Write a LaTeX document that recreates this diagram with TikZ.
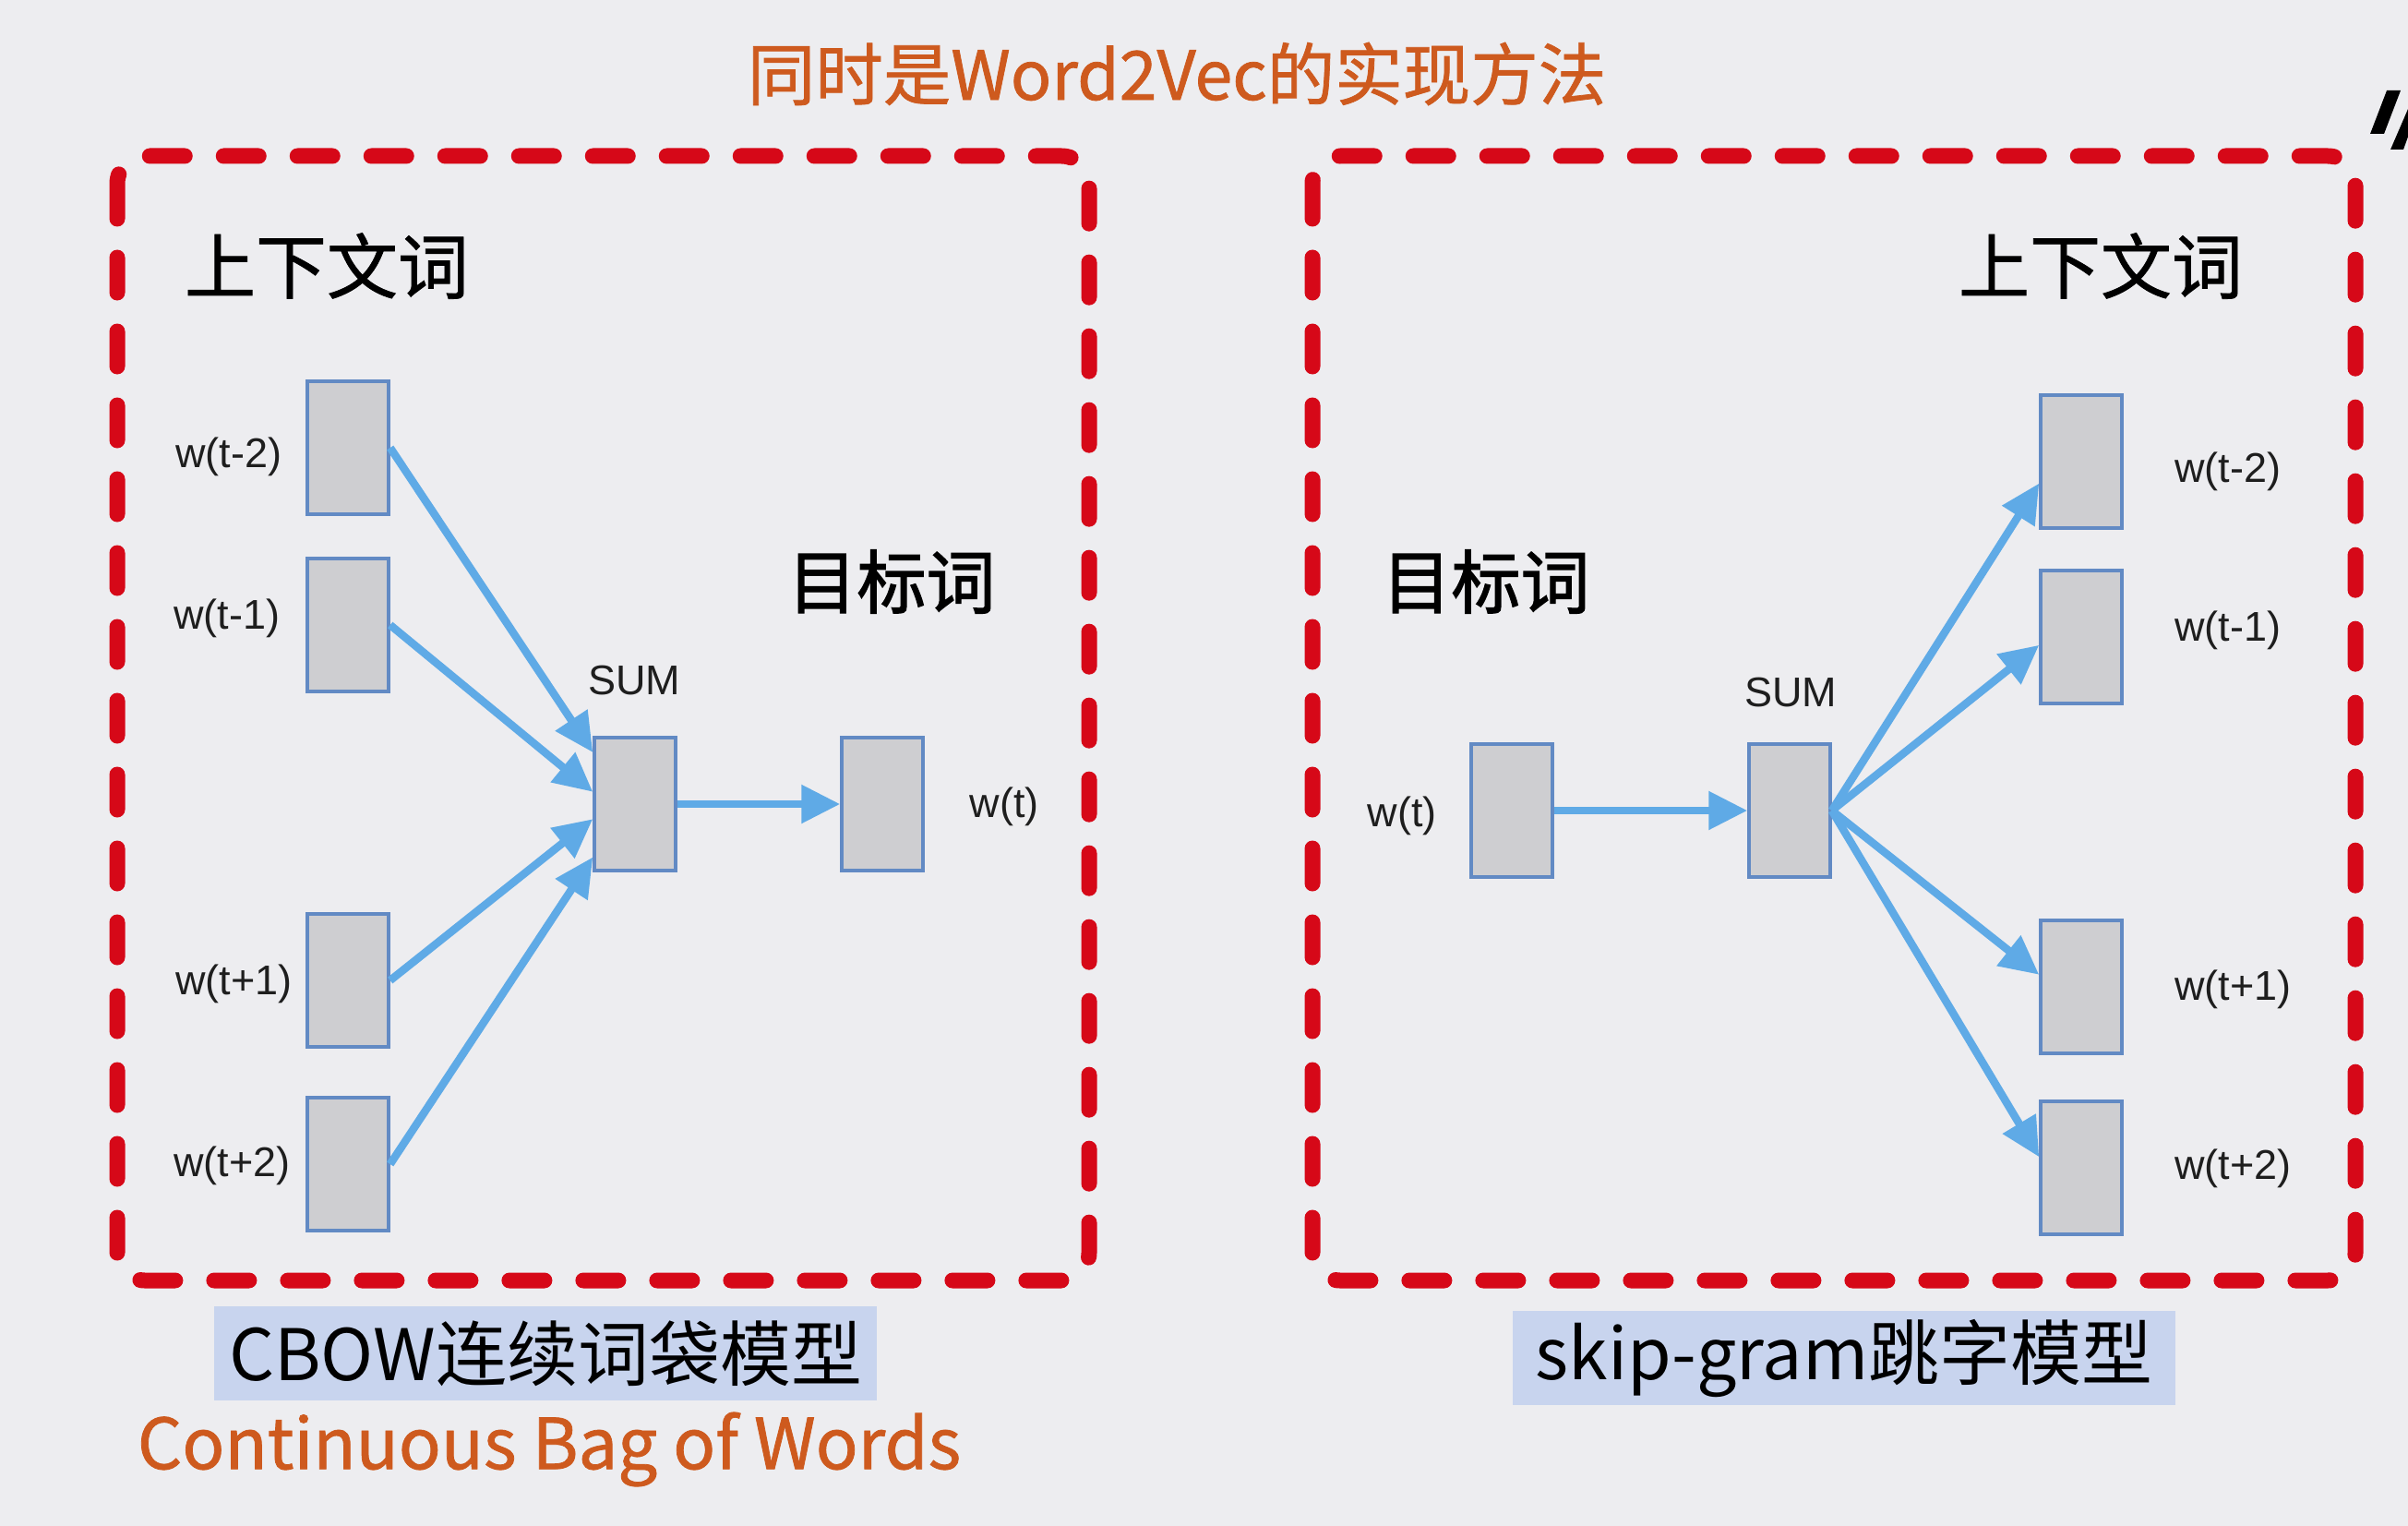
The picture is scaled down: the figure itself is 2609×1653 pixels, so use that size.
\documentclass[tikz,border=0pt]{standalone}
\usepackage{fontspec}
\setmainfont{Liberation Sans}
\newfontfamily\cjk{Noto Sans CJK SC}
\newfontfamily\cjkb[FakeBold=1.0]{Noto Sans CJK SC}
\newfontfamily\cjkbb[FakeBold=1.8]{Noto Sans CJK SC}
\usetikzlibrary{arrows.meta,calc}
\definecolor{bg}{RGB}{237,237,240}
\definecolor{dred}{RGB}{214,8,24}
\definecolor{boxfill}{RGB}{206,206,209}
\definecolor{boxline}{RGB}{98,138,196}
\definecolor{arrowc}{RGB}{95,170,230}
\definecolor{orng}{RGB}{206,90,30}
\definecolor{lblbg}{RGB}{200,212,238}
\definecolor{ink}{RGB}{30,30,30}
\tikzset{
  vec/.style={draw=boxline, fill=boxfill, line width=3.5pt, minimum width=88pt, minimum height=144pt, inner sep=0pt},
  arr/.style={draw=arrowc, line width=8.5pt, -{Triangle[length=42pt,width=40pt]}},
  frame/.style={draw=dred, line width=17pt, line cap=round, dash pattern=on 38pt off 42pt, rounded corners=30pt},
  wlbl/.style={text=ink, font=\fontsize{45}{50}\selectfont, inner sep=0pt},
  cjklbl/.style={text=black, font=\cjkb\fontsize{77}{85}\selectfont, inner sep=0pt},
  modlbl/.style={fill=lblbg, text=black, font=\cjk\fontsize{77}{85}\selectfont, inner sep=0pt, minimum height=102pt},
}
\begin{document}
\begin{tikzpicture}[x=1pt,y=-1pt]
\fill[bg] (0,0) rectangle (2609,1653);
\useasboundingbox (0,0) rectangle (2609,1653);

% title
\node[text=orng, font=\cjkb\fontsize{73.5}{80}\selectfont, inner sep=0pt] (title) at (1275,80) {同时是Word2Vec的实现方法};

% partial glyph at top right
\fill[black] (2568,145) -- (2583,145) -- (2601,98) -- (2586,98) -- cycle;
\fill[black] (2590,162) -- (2604,162) -- (2609,148) -- (2609,118) -- cycle;

% frames
\draw[frame] (127,169) rectangle (1180,1387);
\draw[frame] (1422,169) rectangle (2552,1387);

% ---------- CBOW ----------
\node[cjklbl] (lctx) at (354,288) {上下文词};
\node[cjklbl, font=\cjkbb\fontsize{75}{85}\selectfont] (ltgt) at (966,630) {目标词};

\node[vec] (c2) at (377,485) {};
\node[vec] (c1) at (377,677) {};
\node[vec] (c3) at (377,1062) {};
\node[vec] (c4) at (377,1261) {};
\node[vec] (sum) at (688,871) {};
\node[vec] (tgt) at (956,871) {};

\node[wlbl, anchor=west] (lc2) at (190,495) {w(t-2)};
\node[wlbl, anchor=west] (lc1) at (188,670) {w(t-1)};
\node[wlbl, anchor=west] (lc3) at (190,1066) {w(t+1)};
\node[wlbl, anchor=west] (lc4) at (188,1263) {w(t+2)};
\node[wlbl] (lsum) at (687,737) {SUM};
\node[wlbl] (lt) at (1088,874) {w(t)};

\draw[arr] (c2.east) -- ($(sum.north west)!0.12!(sum.south west)$);
\draw[arr] (c1.east) -- ($(sum.north west)!0.41!(sum.south west)$);
\draw[arr] (c3.east) -- ($(sum.north west)!0.61!(sum.south west)$);
\draw[arr] (c4.east) -- ($(sum.north west)!0.89!(sum.south west)$);
\draw[arr] (sum.east) -- (tgt.west);

% ---------- skip-gram ----------
\node[cjklbl] (rctx) at (2276,288) {上下文词};
\node[cjklbl, font=\cjkbb\fontsize{75}{85}\selectfont] (rtgt) at (1610,630) {目标词};

\node[vec] (win) at (1638,878) {};
\node[vec] (rsum) at (1939,878) {};
\node[vec] (o2) at (2255,500) {};
\node[vec] (o1) at (2255,690) {};
\node[vec] (o3) at (2255,1069) {};
\node[vec] (o4) at (2255,1265) {};

\node[wlbl] (lwin) at (1519,884) {w(t)};
\node[wlbl] (lrsum) at (1940,750) {SUM};
\node[wlbl, anchor=west] (lo2) at (2356,511) {w(t-2)};
\node[wlbl, anchor=west] (lo1) at (2356,683) {w(t-1)};
\node[wlbl, anchor=west] (lo3) at (2356,1072) {w(t+1)};
\node[wlbl, anchor=west] (lo4) at (2356,1266) {w(t+2)};

\draw[arr] (win.east) -- (rsum.west);
\draw[arr] (rsum.east) -- ($(o2.north west)!0.66!(o2.south west)$);
\draw[arr] (rsum.east) -- ($(o1.north west)!0.56!(o1.south west)$);
\draw[arr] (rsum.east) -- ($(o3.north west)!0.41!(o3.south west)$);
\draw[arr] (rsum.east) -- ($(o4.north west)!0.42!(o4.south west)$);

% ---------- bottom labels ----------
\node[modlbl, minimum width=718pt] (cbow) at (591,1466) {CBOW连续词袋模型};
\node[text=orng, font=\cjkb\fontsize{76}{85}\selectfont, inner sep=0pt] (cbowen) at (595,1570) {Continuous Bag of Words};
\node[modlbl, minimum width=718pt] (skip) at (1998,1471) {skip-gram跳字模型};
\end{tikzpicture}
\end{document}
